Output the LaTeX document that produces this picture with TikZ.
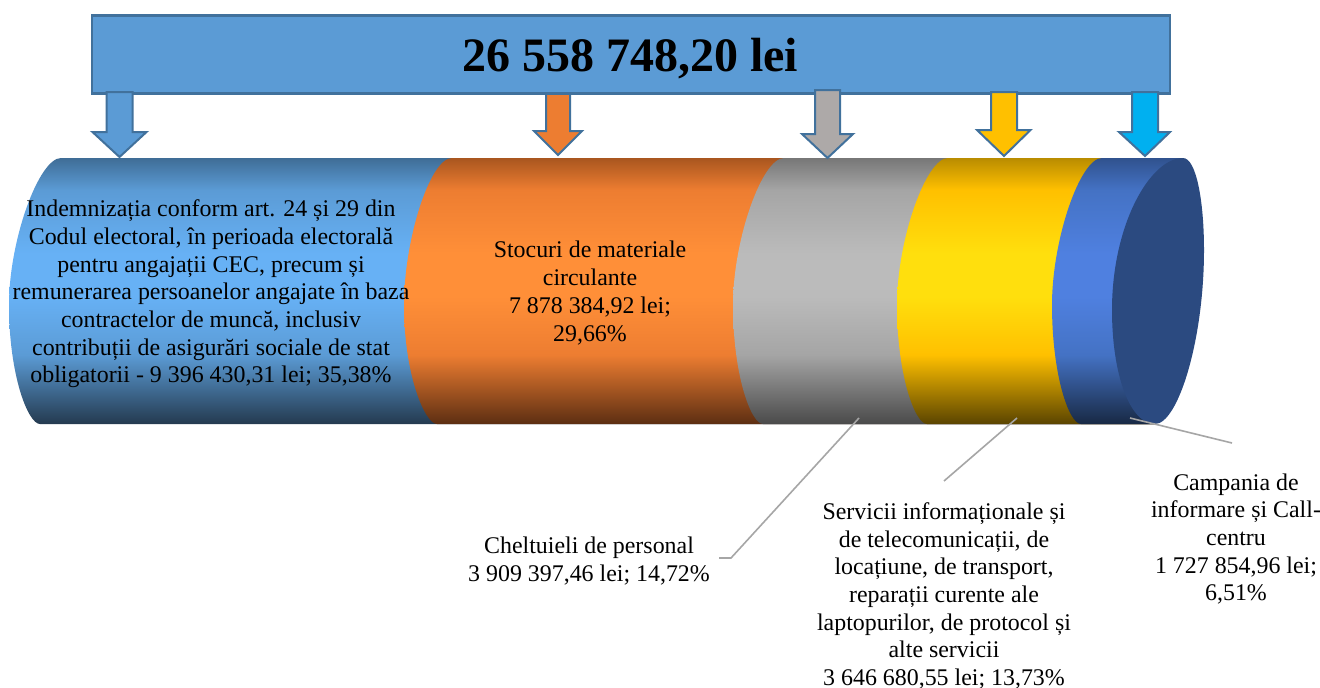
\documentclass[tikz,border=0pt]{standalone}
\usepackage{fontspec}
\setmainfont{Liberation Serif}
\definecolor{boxblue}{HTML}{5B9BD5}
\definecolor{boxedge}{HTML}{41719C}
\definecolor{orangeA}{HTML}{ED7D31}
\definecolor{grayA}{HTML}{ADA9A8}
\definecolor{yellowA}{HTML}{FFC000}
\definecolor{cyanA}{HTML}{00B0F0}
\definecolor{capblue}{HTML}{2B4A80}
\definecolor{leader}{HTML}{A6A6A6}
\newcommand{\mkshade}[5]{%
  \definecolor{#1b}{HTML}{#2}\definecolor{#1m}{HTML}{#3}\definecolor{#1l}{HTML}{#4}\definecolor{#1t}{HTML}{#5}%
  \pgfdeclareverticalshading{#1}{100bp}{color(0bp)=(#1b); color(25bp)=(#1b); color(38bp)=(#1m); color(49bp)=(#1l); color(57bp)=(#1l); color(69bp)=(#1m); color(75bp)=(#1t); color(100bp)=(#1t)}}
\mkshade{cylblue}{243A4F}{5B9BD5}{67B1F5}{3F6D96}
\mkshade{cylorange}{5C2E12}{ED7D31}{FF8F38}{A9561F}
\mkshade{cylgray}{4A4A4A}{A5A5A5}{BBBBBB}{777777}
\mkshade{cylyellow}{5A4400}{FFC000}{FFDF0D}{B98C00}
\mkshade{cylindigo}{182944}{4472C4}{4F80E0}{30528E}
% #1 shading, #2 top x, #3 extreme left x, #4 bottom x
\newcommand{\cylseg}[4]{%
  \path[shading=#1] (#2,158) -- (1183,158) -- (1155,424) -- (#4,424)
    .. controls ({#4-12},424) and (#3,375) .. (#3,305)
    .. controls (#3,240) and ({#2-22},158) .. (#2,158) -- cycle;}
% #1 fill, #2 shaft left, #3 shaft right, #4 head left, #5 head right, #6 shaft top, #7 head y, #8 tip x, #9 tip y
\newcommand{\blockarrow}[9]{%
  \path[arrowbox,fill=#1] (#2,#6) -- (#3,#6) -- (#3,#7) -- (#5,#7) -- (#8,#9) -- (#4,#7) -- (#2,#7) -- cycle;}
\tikzset{
  arrowbox/.style={draw=boxedge,line width=2pt,line join=miter},
  lab/.style={align=center,inner sep=0pt,font=\fontsize{23.9}{27.7}\selectfont,text=black},
  leaderline/.style={draw=leader,line width=1.6pt}
}
\begin{document}
\begin{tikzpicture}[x=1pt,y=-1pt]
\useasboundingbox (0,0) rectangle (1320,688);
\fill[white] (0,0) rectangle (1320,688);
% cylinder
\cylseg{cylblue}{61}{9}{40}
\cylseg{cylorange}{452}{404}{437}
\cylseg{cylgray}{784}{733}{763}
\cylseg{cylyellow}{948}{897}{927}
\cylseg{cylindigo}{1102}{1052}{1081}
\path[fill=capblue] (1183,158) .. controls (1196,158) and (1204,200) .. (1204,250)
  .. controls (1204,340) and (1178,424) .. (1155,424)
  .. controls (1130,424) and (1112,375) .. (1112,310)
  .. controls (1112,225) and (1150,158) .. (1183,158) -- cycle;
% arrows and total box
\blockarrow{orangeA}{546}{570}{534}{582}{90}{131}{558}{155}
\node[draw=boxedge,fill=boxblue,line width=2.5pt,minimum width=1078pt,minimum height=78pt,inner sep=0pt,anchor=north west] (total) at (90.5,14) {};
\node[inner sep=0pt,font=\fontsize{48}{52}\selectfont\bfseries] (totaltext) at (630,59) {26 558 748,20 lei};
\blockarrow{boxblue}{106.5}{132.5}{92.5}{146.5}{92}{132}{119.5}{157}
\blockarrow{grayA}{815}{840}{802}{853}{90}{134}{827.5}{158}
\blockarrow{yellowA}{991}{1017}{977}{1030.5}{92}{130}{1004}{156}
\blockarrow{cyanA}{1132}{1158}{1119}{1170}{92}{132}{1145}{156}
% labels
\node[lab] (indem) at (211,294) {Indemnizația conform art. 24 și 29 din\\Codul electoral, în perioada electorală\\pentru angajații CEC, precum și\\remunerarea persoanelor angajate în baza\\contractelor de muncă, inclusiv\\contribuții de asigurări sociale de stat\\obligatorii - 9 396 430,31 lei; 35,38\%};
\node[lab] (stoc) at (590,293) {Stocuri de materiale\\circulante\\7 878 384,92 lei;\\29,66\%};
\node[lab] (chelt) at (589,561) {Cheltuieli de personal\\3 909 397,46 lei; 14,72\%};
\node[lab] (serv) at (944,596) {Servicii informaționale și\\de telecomunicații, de\\locațiune, de transport,\\reparații curente ale\\laptopurilor, de protocol și\\alte servicii\\3 646 680,55 lei; 13,73\%};
\node[lab] (camp) at (1236,539) {Campania de\\informare și Call-\\centru\\1 727 854,96 lei;\\6,51\%};
% leaders
\coordinate (a1) at (859,418);
\coordinate (a2) at (731,558);
\coordinate (a3) at (719,558);
\coordinate (b1) at (1017,418);
\coordinate (b2) at (944,481);
\coordinate (c1) at (1130,418);
\coordinate (c2) at (1232,443);
\draw[leaderline] (a1) -- (a2) -- (a3);
\draw[leaderline] (b1) -- (b2);
\draw[leaderline] (c1) -- (c2);
\end{tikzpicture}
\end{document}
